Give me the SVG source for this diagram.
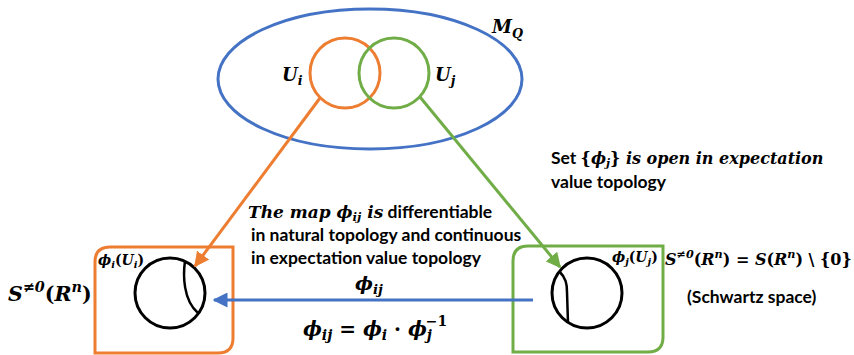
<svg xmlns="http://www.w3.org/2000/svg" width="854" height="355" viewBox="0 0 854 355">
<style>
.m{font-family:"DejaVu Serif",serif;font-weight:bold;font-style:italic;fill:#000}
.r{font-style:normal}
.t{font-family:Lato,"Liberation Sans",sans-serif;font-weight:bold;fill:#000;font-size:17.5px}
.sub{font-size:70%}
</style>
<defs>
<marker id="ao" viewBox="0 0 10 10" refX="9" refY="5" markerWidth="5" markerHeight="5" orient="auto"><path d="M0,0 L10,5 L0,10 z" fill="#ED7D31"/></marker>
<marker id="ag" viewBox="0 0 10 10" refX="9" refY="5" markerWidth="5" markerHeight="5" orient="auto"><path d="M0,0 L10,5 L0,10 z" fill="#70AD47"/></marker>
<marker id="ab" viewBox="0 0 10 10" refX="9" refY="5" markerWidth="5" markerHeight="5" orient="auto"><path d="M0,0 L10,5 L0,10 z" fill="#4472C4"/></marker>
</defs>
<rect width="854" height="355" fill="#fff"/>
<g id="MQ">
<ellipse cx="370" cy="79" rx="152" ry="70" fill="none" stroke="#4472C4" stroke-width="3"/>
<text class="m" x="492" y="33" font-size="18">M<tspan class="sub" dy="5">Q</tspan></text>
</g>
<g id="Ui">
<circle cx="345" cy="73" r="35" fill="none" stroke="#ED7D31" stroke-width="3"/>
<text class="m" x="282" y="81" font-size="18">U<tspan class="sub" dy="4">i</tspan></text>
</g>
<g id="Uj">
<circle cx="394" cy="73" r="35" fill="none" stroke="#70AD47" stroke-width="3"/>
<text class="m" x="435" y="81" font-size="18">U<tspan class="sub" dy="4">j</tspan></text>
</g>
<g id="left">
<path d="M110,247 H233 V338 Q233,353 218,353 H95 V262 Q95,247 110,247 Z" fill="none" stroke="#ED7D31" stroke-width="3"/>
<circle cx="170" cy="293" r="35" fill="none" stroke="#000" stroke-width="3"/>
<path d="M185,261 C183,275 183,300 198,313" fill="none" stroke="#000" stroke-width="2.5"/>
<text class="m" x="98" y="265" font-size="14">ϕ<tspan class="sub" dy="3">i</tspan><tspan class="r" dy="-3">(</tspan><tspan dy="0">U</tspan><tspan class="sub" dy="3">i</tspan><tspan class="r" dy="-3">)</tspan></text>
<text class="m" x="8" y="301" font-size="20.5">S<tspan class="sub" dy="-9">≠0</tspan><tspan class="r" dy="9">(</tspan><tspan>R</tspan><tspan class="sub" dy="-9">n</tspan><tspan class="r" dy="9">)</tspan></text>
</g>
<g id="right">
<path d="M528,246 H663 V337 Q663,352 648,352 H513 V261 Q513,246 528,246 Z" fill="none" stroke="#70AD47" stroke-width="3"/>
<circle cx="587" cy="293" r="35" fill="none" stroke="#000" stroke-width="3"/>
<path d="M559,271 C566,278 567,284 567,292 L568,323" fill="none" stroke="#000" stroke-width="2.5"/>
<text class="m" x="612" y="262" font-size="14">ϕ<tspan class="sub" dy="3">j</tspan><tspan class="r" dy="-3">(</tspan><tspan>U</tspan><tspan class="sub" dy="3">j</tspan><tspan class="r" dy="-3">)</tspan></text>
<text class="m" x="665" y="265" font-size="16">S<tspan class="sub" dy="-7">≠0</tspan><tspan class="r" dy="7">(</tspan><tspan>R</tspan><tspan class="sub" dy="-7">n</tspan><tspan class="r" dy="7">) = </tspan><tspan>S</tspan><tspan class="r">(</tspan><tspan>R</tspan><tspan class="sub" dy="-7">n</tspan><tspan class="r" dy="7">) \ {0}</tspan></text>
<text class="t" x="687" y="303" font-size="16.5px">(Schwartz space)</text>
</g>
<g id="connectors">
<line x1="320" y1="98" x2="195" y2="266" stroke="#ED7D31" stroke-width="3" marker-end="url(#ao)"/>
<line x1="420" y1="97" x2="560" y2="267" stroke="#70AD47" stroke-width="3" marker-end="url(#ag)"/>
<line x1="533" y1="300" x2="214" y2="300" stroke="#4472C4" stroke-width="3" marker-end="url(#ab)"/>
</g>
<g id="labels">
<text class="t" x="551" y="164">Set <tspan class="m" font-size="16"><tspan class="r">{</tspan>ϕ<tspan class="sub" dy="3">j</tspan><tspan class="r" dy="-3">}</tspan> is open in expectation</tspan></text>
<text class="t" x="551" y="188">value topology</text>
<text class="t" x="248" y="218"><tspan class="m" font-size="17">The map ϕ<tspan class="sub" dy="3">ij</tspan><tspan dy="-3"> is</tspan></tspan> differentiable</text>
<text class="t" x="251" y="241">in natural topology and continuous</text>
<text class="t" x="251" y="264">in expectation value topology</text>
<text class="m" x="355" y="290" font-size="19">ϕ<tspan class="sub" dy="4">ij</tspan></text>
<text class="m" x="303" y="336" font-size="20">ϕ<tspan class="sub" dy="4">ij</tspan><tspan class="r" dy="-4"> = </tspan><tspan>ϕ</tspan><tspan class="sub" dy="4">i</tspan><tspan class="r" dy="-4"> ·  </tspan><tspan>ϕ</tspan><tspan class="sub" dy="4">j</tspan><tspan class="sub r" dx="-6" dy="-14">−1</tspan></text>
</g>
</svg>
